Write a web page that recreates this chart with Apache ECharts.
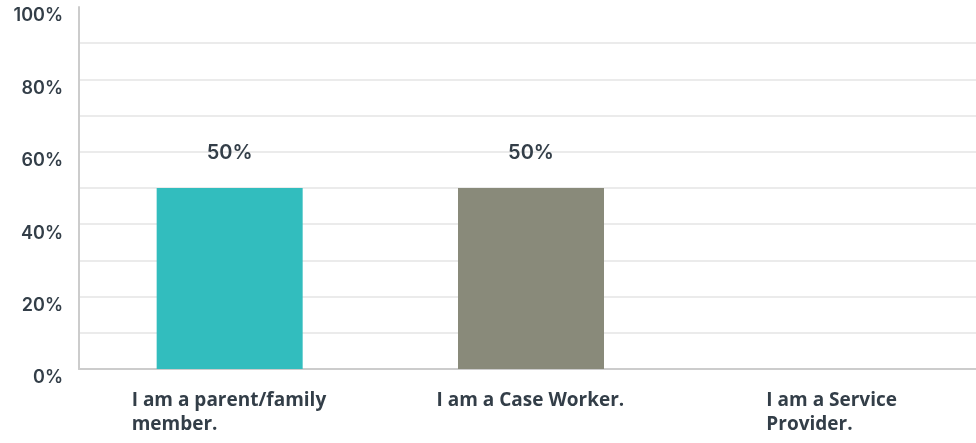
<!DOCTYPE html>
<html>
<head>
<meta charset="utf-8">
<script src="https://cdn.jsdelivr.net/npm/echarts@6/dist/echarts.min.js"></script>
<style>
  html, body { margin: 0; padding: 0; background: #fff; }
  #chart { width: 976px; height: 443px; }
</style>
</head>
<body>
<div id="chart"></div>
<script>
// answer categories (line breaks as shown under the axis)
const categories = ['I am a parent/family\nmember.', 'I am a Case Worker.', 'I am a Service\nProvider.']
// share of responses, %
const values = [50, 50, 0]
const barColors = ['#32bdbe', '#898a7a', '#e05d5d']
const yTicks = [0, 20, 40, 60, 80, 100]

const textColor = '#333e48'
const catFont = '700 19px "Open Sans"'

// widest line of each label, so lines can be left aligned inside a centered block
const ctx = document.createElement('canvas').getContext('2d')
ctx.font = catFont
const rich = {}
categories.forEach((c, i) => {
  const w = Math.max(...c.split('\n').map(l => ctx.measureText(l).width))
  rich['c' + i] = {
    width: Math.ceil(w) + 1,
    align: 'left',
    fontFamily: 'Open Sans',
    fontWeight: 700,
    fontSize: 19,
    lineHeight: 24,
    color: textColor
  }
})

const chart = echarts.init(document.getElementById('chart'))

chart.setOption({
  animation: false,
  grid: { left: 79, right: -7, top: 7, bottom: 74, outerBoundsMode: 'none', containLabel: false },
  xAxis: {
    type: 'category',
    data: categories,
    axisLine: { lineStyle: { color: '#cccccc', width: 2 } },
    axisTick: { show: false },
    axisLabel: {
      interval: 0,
      margin: 20,
      formatter: (v, i) => v.split('\n').map(l => `{c${i}|${l}}`).join('\n'),
      rich
    }
  },
  yAxis: {
    type: 'value',
    min: 0,
    max: 100,
    interval: 10,
    axisLine: { show: true, lineStyle: { color: '#cccccc', width: 2 } },
    axisTick: { show: false },
    splitLine: { showMaxLine: false, lineStyle: { color: '#ebebeb', width: 2 } },
    axisLabel: {
      margin: 16,
      verticalAlign: 'top',
      color: textColor,
      fontFamily: 'Inter',
      fontWeight: 600,
      fontSize: 18,
      formatter: v => (yTicks.includes(v) ? v + '%' : '')
    }
  },
  series: [{
    type: 'bar',
    barWidth: 146,
    data: values.map((v, i) => ({ value: v, itemStyle: { color: barColors[i] } })),
    label: {
      show: true,
      position: 'top',
      distance: 25,
      color: textColor,
      fontFamily: 'Inter',
      fontWeight: 600,
      fontSize: 20,
      formatter: p => (p.value > 0 ? p.value + '%' : '')
    }
  }]
})
</script>
</body>
</html>
